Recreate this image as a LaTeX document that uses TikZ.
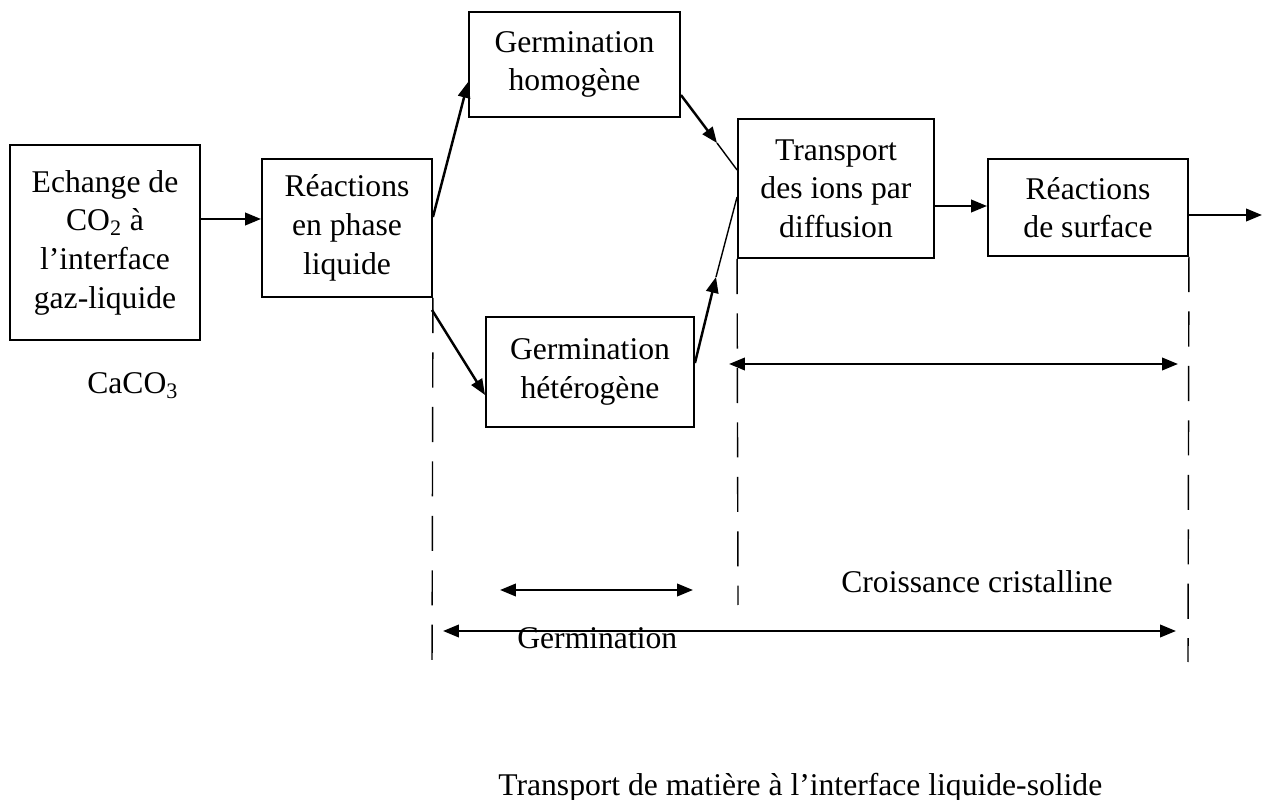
\documentclass[tikz,border=0pt]{standalone}
\usepackage{fontspec}
\setmainfont{Liberation Serif}
\usetikzlibrary{arrows.meta,calc}
\begin{document}
\begin{tikzpicture}[x=0.02cm,y=-0.02cm,
  box/.style={draw,line width=1.1pt,align=center,inner sep=0pt,font=\fontsize{18}{22}\selectfont},
  lbl/.style={inner sep=0pt,font=\fontsize{18}{22}\selectfont},
  arr/.style={line width=1.4pt,-{Triangle[length=9pt,width=7pt]}},
  darr/.style={line width=1.4pt,{Triangle[length=9pt,width=7pt]}-{Triangle[length=9pt,width=7pt]}},
  thinline/.style={line width=0.8pt},
  dsh/.style={line width=0.8pt,dash pattern=on 20pt off 11pt}]
\useasboundingbox (0,0) rectangle (1262,800);
% boxes
\node[box,minimum width=3.8cm,minimum height=3.9cm] (b1) at (105,242.5) {Echange de\\CO\textsubscript{2} à\\l’interface\\gaz-liquide};
\node[box,minimum width=3.4cm,minimum height=2.76cm] (b2) at (347,228) {Réactions\\en phase\\liquide};
\node[box,minimum width=4.22cm,minimum height=2.1cm] (b3) at (574.5,64.5) {Germination\\homogène};
\node[box,minimum width=4.16cm,minimum height=2.2cm] (b4) at (590,372) {Germination\\hétérogène};
\node[box,minimum width=3.92cm,minimum height=2.78cm] (b5) at (836,188.5) {Transport\\des ions par\\diffusion};
\node[box,minimum width=4.0cm,minimum height=1.94cm] (b6) at (1088,207.5) {Réactions\\de surface};
% free coordinates
\coordinate (s24) at (432,310);
\coordinate (c35) at (717,143);
\coordinate (c45) at (716,277);
\coordinate (out) at (1262,215);
\coordinate (d1) at (432,670);
\coordinate (d2) at (738,605);
\coordinate (d3) at (1188,662);
\coordinate (ha1) at (729,364);
\coordinate (ha2) at (1178,364);
\coordinate (ga1) at (500,590);
\coordinate (ga2) at (693,590);
\coordinate (ta1) at (443,631);
\coordinate (ta2) at (1176,631);
% connectors
\draw[arr] (b1.east |- 0,219) -- (b2.west |- 0,219);
\draw[arr] (b2.east |- 0,217) -- (b3.west |- 0,82);
\draw[arr] (s24) -- (b4.west |- 0,395);
\draw[arr] (b3.east |- 0,95) -- (c35);
\draw[thinline] (c35) -- (b5.west |- 0,170);
\draw[arr] (b4.east |- 0,363) -- (c45);
\draw[thinline] (c45) -- (b5.west |- 0,197);
\draw[arr] (b5.east |- 0,206) -- (b6.west |- 0,206);
\draw[arr] (b6.east |- 0,215) -- (out);
% dashed guides
\draw[dsh] (b2.south east) -- (d1);
\draw[dsh] (b5.south west) -- (d2);
\draw[dsh] (b6.south east) -- (d3);
% double arrows
\draw[darr] (ha1) -- (ha2);
\draw[darr] (ga1) -- (ga2);
\draw[darr] (ta1) -- (ta2);
% labels
\node[lbl,anchor=base west] (caco) at (87,394) {CaCO\textsubscript{3}};
\node[lbl,anchor=base west] (germ) at (517,648) {Germination};
\node[lbl,anchor=base west] (crois) at (841,593) {Croissance cristalline};
\node[lbl,anchor=base west] (transp) at (498,795) {Transport de matière à l’interface liquide-solide};
\end{tikzpicture}
\end{document}
